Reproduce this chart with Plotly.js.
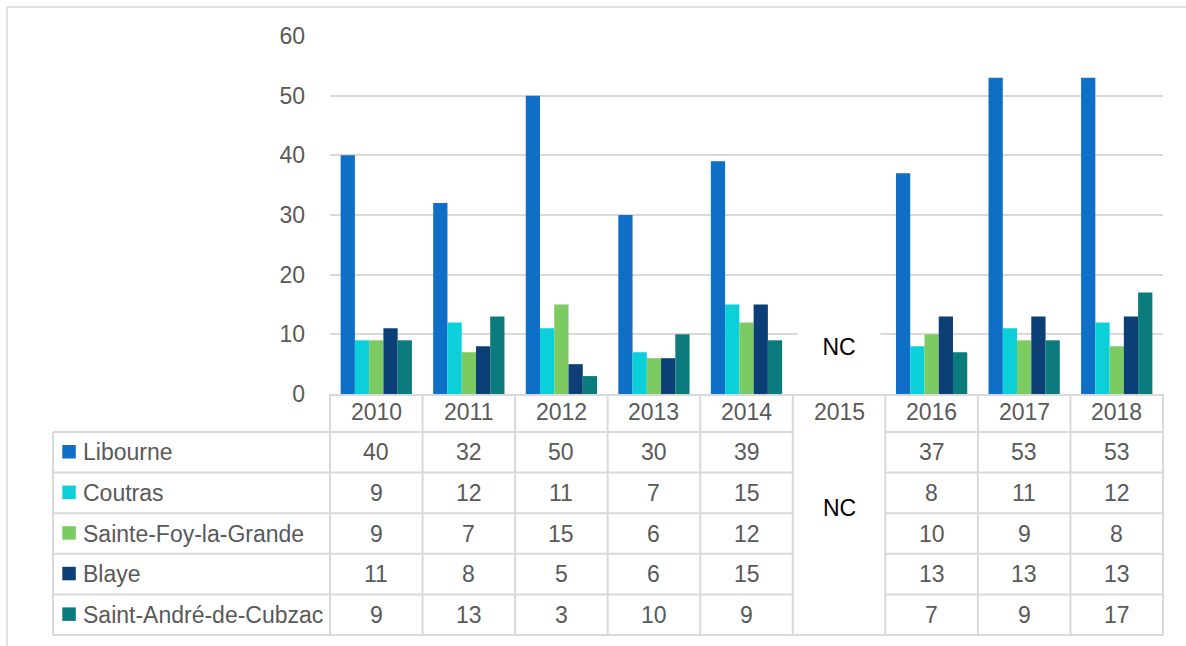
<!DOCTYPE html>
<html><head><meta charset="utf-8">
<script src="https://cdn.plot.ly/plotly-3.0.1.min.js"></script>
<style>html,body{margin:0;padding:0;background:#fff;}#chart{width:1186px;height:646px;}</style>
</head><body><div id="chart"></div>
<script>
// ---- data ----
const years = ['2010','2011','2012','2013','2014','2015','2016','2017','2018'];
const seriesNames = ['Libourne','Coutras','Sainte-Foy-la-Grande','Blaye','Saint-André-de-Cubzac'];
const libourne = [40, 32, 50, 30, 39, null, 37, 53, 53];
const coutras  = [ 9, 12, 11,  7, 15, null,  8, 11, 12];
const steFoy   = [ 9,  7, 15,  6, 12, null, 10,  9,  8];
const blaye    = [11,  8,  5,  6, 15, null, 13, 13, 13];
const stAndre  = [ 9, 13,  3, 10,  9, null,  7,  9, 17];
const missingYear = '2015';
const missingLabel = 'NC';
const yTicks = [0, 10, 20, 30, 40, 50, 60];

// ---- style ----
const colors = ['#0F6FC6', '#0BD0D9', '#7CCA62', '#0B3F76', '#0B7B7D'];
const values = [libourne, coutras, steFoy, blaye, stAndre];
const FONT = "'Liberation Sans', Arial, sans-serif";
const FS = 23;
const GRAY = '#595959';
const LINE = '#d9d9d9';

const W = 1186, H = 646, L = 330, R = 1163, T = 36, B = 394;
const px = x => (x - L) / (R - L);
const py = y => (B - y) / (B - T);

const headerBottom = 432, rowH = 40.6, tableLeft = 53;
const nCols = years.length;
const colEdge = k => L + k * (R - L) / nCols;
const missIdx = years.indexOf(missingYear);

const traces = seriesNames.map((n, i) => ({
  type: 'bar', name: n, x: years, y: values[i],
  marker: {color: colors[i]}, hoverinfo: 'skip'
}));

const shapes = [];
const annotations = [];
const ln = (x0, y0, x1, y1, w, c) => shapes.push({type: 'line', xref: 'paper', yref: 'paper',
  x0: px(x0), y0: py(y0), x1: px(x1), y1: py(y1), line: {color: c || LINE, width: w || 2}});

// outer frame
ln(7, 7, W, 7, 1.5);
ln(7, 7, 7, H, 1.5);

// table horizontal lines
const tableBottom = headerBottom + rowH * seriesNames.length;
for (let r = 0; r < seriesNames.length; r++) {
  const y = headerBottom + r * rowH;
  ln(tableLeft, y, colEdge(missIdx), y);
  ln(colEdge(missIdx + 1), y, R, y);
}
ln(tableLeft, tableBottom, R, tableBottom);
// table vertical lines
ln(tableLeft, headerBottom, tableLeft, tableBottom);
for (let k = 0; k <= nCols; k++) ln(colEdge(k), B, colEdge(k), tableBottom);

const tf = {family: FONT, size: FS, color: GRAY};
// header (category index used as x on the category axis)
years.forEach((yr, c) => annotations.push({xref: 'x', yref: 'paper', x: c, y: py((B + headerBottom) / 2 - 1.5),
  text: yr, showarrow: false, font: tf, xanchor: 'center', yanchor: 'middle'}));

// rows
seriesNames.forEach((n, r) => {
  const cy = headerBottom + r * rowH + rowH / 2;
  shapes.push({type: 'rect', xref: 'paper', yref: 'paper', x0: px(62.3), x1: px(75.8),
    y0: py(cy - 7.3), y1: py(cy + 6.2), fillcolor: colors[r], line: {width: 0}});
  annotations.push({xref: 'paper', yref: 'paper', x: px(81), y: py(cy), text: n, showarrow: false,
    font: tf, xanchor: 'left', yanchor: 'middle'});
  values[r].forEach((v, c) => {
    if (v === null) return;
    annotations.push({xref: 'x', yref: 'paper', x: c, y: py(cy), text: String(v),
      showarrow: false, font: tf, xanchor: 'center', yanchor: 'middle'});
  });
});

// NC labels
const ncf = {family: FONT, size: 23, color: '#000000'};
annotations.push({xref: 'x', yref: 'paper', x: missIdx, y: py(347), text: missingLabel, showarrow: false,
  font: ncf, bgcolor: '#ffffff', width: 80, height: 60, xanchor: 'center', yanchor: 'middle'});
annotations.push({xref: 'x', yref: 'paper', x: missIdx, y: py(507.5), text: missingLabel, showarrow: false,
  font: ncf, xanchor: 'center', yanchor: 'middle'});

const layout = {
  width: W, height: H,
  margin: {l: L, r: W - R, t: T, b: H - B, pad: 0},
  paper_bgcolor: '#ffffff', plot_bgcolor: '#ffffff',
  showlegend: false,
  barmode: 'group', bargap: 0.23, bargroupgap: 0,
  font: {family: FONT, color: GRAY},
  xaxis: {type: 'category', categoryorder: 'array', categoryarray: years, range: [-0.5, nCols - 0.5],
    showticklabels: false, ticks: '', showgrid: false, zeroline: false,
    showline: true, linecolor: LINE, linewidth: 2, fixedrange: true},
  yaxis: {range: [0, 60], tickvals: yTicks, ticktext: yTicks.map(String), ticks: '',
    tickfont: {family: FONT, size: FS, color: GRAY}, ticklabelstandoff: 24,
    showgrid: true, gridcolor: LINE, gridwidth: 2, zeroline: false, showline: false, fixedrange: true},
  shapes: shapes,
  annotations: annotations
};

Plotly.newPlot('chart', traces, layout, {displayModeBar: false, staticPlot: true});
</script></body></html>
